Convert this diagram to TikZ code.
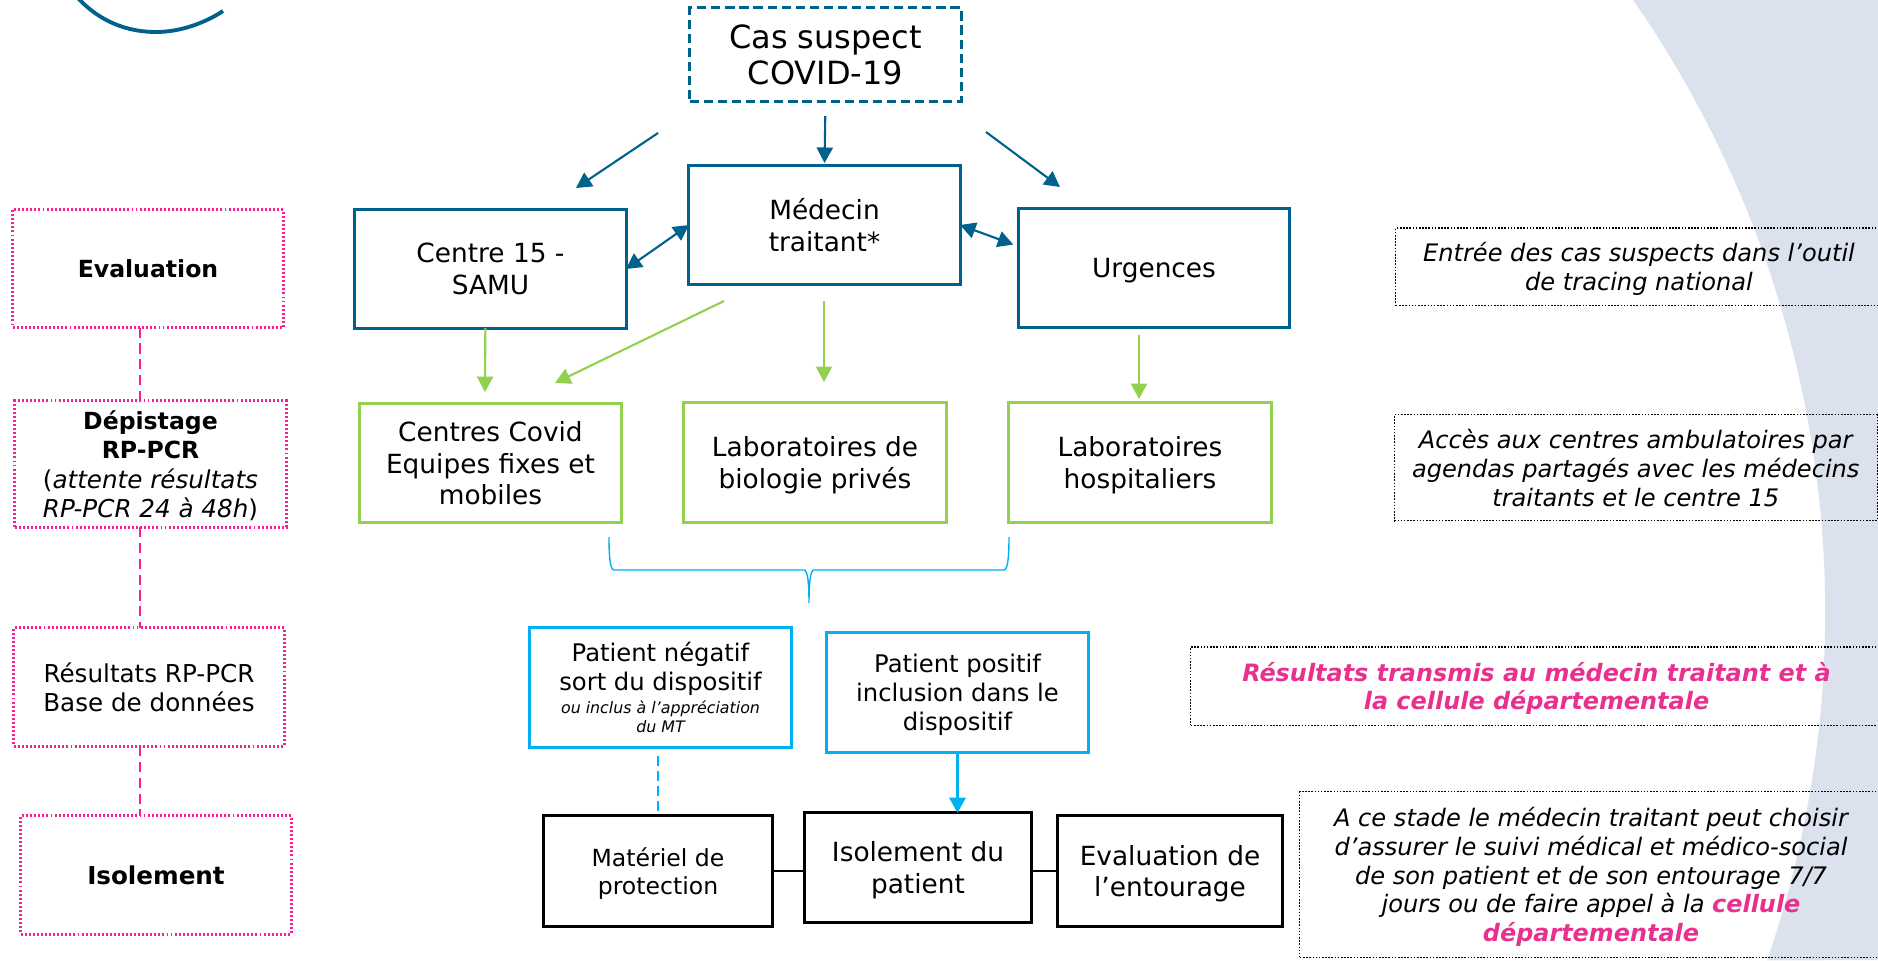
\documentclass[tikz,border=0pt]{standalone}
\usepackage{fontspec}
\setmainfont{DejaVu Sans}
\usepackage{tikz}
\usetikzlibrary{arrows.meta, positioning}
\definecolor{tealBlue}{HTML}{00618C}
\definecolor{leafGreen}{HTML}{92D050}
\definecolor{skyBlue}{HTML}{00B0F0}
\definecolor{hotPink}{HTML}{F5218F}
\definecolor{notePink}{HTML}{E8308F}
\definecolor{paleBlue}{HTML}{DCE2ED}
\tikzset{boxSize/.style 2 args={minimum width=#1cm, minimum height=#2cm}}
\tikzstyle{block} = [rectangle, align=center, inner sep=0pt, outer sep=0pt, text depth=0pt, font=\fontsize{7.5}{9}\selectfont]
\tikzstyle{tealBox} = [block, draw=tealBlue, line width=0.85pt]
\tikzstyle{greenBox} = [block, draw=leafGreen, line width=0.85pt, boxSize={2.62}{1.19}]
\tikzstyle{blueBox} = [block, draw=skyBlue, line width=0.85pt, boxSize={2.61}{1.19}, font=\fontsize{6.9}{8.2}\selectfont]
\tikzstyle{blackBox} = [block, draw=black, line width=0.85pt]
\tikzstyle{stageBox} = [block, draw=hotPink, line width=0.85pt, dash pattern=on 0.55pt off 0.6pt, boxSize={2.7}{1.18}, font=\fontsize{7}{8.2}\selectfont]
\tikzstyle{noteBox} = [block, draw=black, line width=0.3pt, dash pattern=on 0.45pt off 0.45pt, font=\fontsize{6.85}{8.2}\selectfont\itshape]
\tikzstyle{arrowTeal} = [tealBlue, line width=0.6pt, -{Triangle[length=4.4pt,width=4.6pt]}]
\tikzstyle{arrowBoth} = [tealBlue, line width=0.6pt, {Triangle[length=4.4pt,width=4.6pt]}-{Triangle[length=4.4pt,width=4.6pt]}]
\tikzstyle{arrowGreen} = [leafGreen, line width=0.6pt, -{Triangle[length=4.4pt,width=4.6pt]}]
\tikzstyle{arrowBlue} = [skyBlue, line width=0.9pt, -{Triangle[length=4.4pt,width=4.6pt]}]
\tikzstyle{stageLine} = [hotPink, line width=0.55pt, dash pattern=on 2.9pt off 1.6pt]
\newcommand{\boldLabel}{\fontsize{6.7}{8}\selectfont\bfseries}
\newcommand{\smallNote}{\fontsize{4.5}{5.4}\selectfont\itshape}
\newcommand{\pinkText}{\fontsize{6.8}{8.2}\selectfont\bfseries\color{notePink}}

\begin{document}
\begin{tikzpicture}[x=0.01cm, y=-0.01cm]
\useasboundingbox (0,0) rectangle (1878,960);
% Background and logo
\fill [paleBlue] (1633,0) arc[start angle=34.85, end angle=-18.96, radius=10.71cm] -- (1878,960) -- (1878,0) -- cycle;
\draw [tealBlue, line width=1.1pt] (78,-2) .. controls (100,22) and (128,32) .. (156,32) .. controls (180,32) and (205,23) .. (223,11);
% Define nodes
\node (casSuspect) [tealBox, boxSize={2.71}{0.93}, dash pattern=on 2.6pt off 1.4pt, font=\fontsize{9.1}{10.2}\selectfont] at (825.5,54.5) {Cas suspect\\COVID-19};
\node (medecin) [tealBox, boxSize={2.71}{1.18}] at (824.5,225) {Médecin\\traitant*};
\node (centreSamu) [tealBox, boxSize={2.71}{1.18}] at (490.5,269) {Centre 15 -\\SAMU};
\node (urgences) [tealBox, boxSize={2.70}{1.19}] at (1154,268) {Urgences};
\node (centresCovid) [greenBox] at (490.5,463) {Centres Covid\\Equipes fixes et\\mobiles};
\node (labPrives) [greenBox] at (815,462.5) {Laboratoires de\\biologie privés};
\node (labHospit) [greenBox] at (1140,462.5) {Laboratoires\\hospitaliers};
\node (patientNegatif) [blueBox] at (660.5,687.5) {Patient négatif\\sort du dispositif\\[-1.7pt]\smallNote ou inclus à l’appréciation\\[-2.8pt]\smallNote du MT};
\node (patientPositif) [blueBox] at (957.5,692.5) {Patient positif\\inclusion dans le\\dispositif};
\node (materiel) [blackBox, boxSize={2.28}{1.10}, font=\fontsize{6.7}{8}\selectfont] at (658,871) {Matériel de\\protection};
\node (isolPatient) [blackBox, boxSize={2.275}{1.09}] at (918,867.5) {Isolement du\\patient};
\node (evalEntourage) [blackBox, boxSize={2.24}{1.10}] at (1170,871) {Evaluation de\\l’entourage};
% Stages on the left
\node (evalStage) [stageBox] at (148,268.5) {\boldLabel Evaluation};
\node (depStage) [stageBox, boxSize={2.71}{1.26}, font=\fontsize{7}{8.3}\selectfont] at (150.5,464) {{\boldLabel Dépistage}\\{\boldLabel RP-PCR}\\(\textit{attente résultats}\\\textit{RP-PCR 24 à 48h})};
\node (resStage) [stageBox] at (149,687) {Résultats RP-PCR\\Base de données};
\node (isoStage) [stageBox] at (156,875) {\fontsize{7}{8}\selectfont\bfseries Isolement};
% Notes on the right
\node (noteTracing) [noteBox, boxSize={4.86}{0.775}] at (1639,266.75) {Entrée des cas suspects dans l’outil\\de tracing national};
\node (noteCentres) [noteBox, boxSize={4.825}{1.06}] at (1635.75,467.8) {Accès aux centres ambulatoires par\\agendas partagés avec les médecins\\traitants et le centre 15};
\node (noteCellule) [noteBox, boxSize={6.91}{0.78}, font=\pinkText\itshape] at (1536.5,686) {Résultats transmis au médecin traitant et à\\la cellule départementale};
\node (noteChoix) [noteBox, boxSize={5.82}{1.65}] at (1591,874.5) {A ce stade le médecin traitant peut choisir\\d’assurer le suivi médical et médico-social\\de son patient et de son entourage 7/7\\jours ou de faire appel à la {\pinkText cellule}\\{\pinkText départementale}};
% Free ends of the arrows
\coordinate (casLeft) at (658,133);
\coordinate (samuTip) at (576,188);
\coordinate (casRight) at (986,132);
\coordinate (urgencesTip) at (1060,187);
\coordinate (covidTip) at (485,392);
\coordinate (medecinFoot) at (724,301);
\coordinate (covidCorner) at (555,383);
\coordinate (medecinDown) at (824,301);
\coordinate (privesTip) at (824,382);
\coordinate (urgencesDown) at (1139,335);
\coordinate (hospitTip) at (1139,399);
\coordinate (stageAxis) at (140,0);
% Connect nodes with arrows
\draw [arrowTeal] (casLeft) -- (samuTip);
\draw [arrowTeal, shorten <=0.15cm, shorten >=0.03cm] (casSuspect.south) -- (medecin.north);
\draw [arrowTeal] (casRight) -- (urgencesTip);
\draw [arrowBoth] (centreSamu.east) -- (medecin.west);
\draw [arrowBoth, shorten >=0.06cm] (medecin.east) -- (urgences.171);
\draw [arrowGreen] (centreSamu.265) -- (covidTip);
\draw [arrowGreen] (medecinFoot) -- (covidCorner);
\draw [arrowGreen] (medecinDown) -- (privesTip);
\draw [arrowGreen] (urgencesDown) -- (hospitTip);
\draw [arrowBlue] (patientPositif.south) -- (isolPatient.north -| patientPositif.south);
\draw [skyBlue, line width=0.6pt, dash pattern=on 2.7pt off 1.6pt, shorten <=0.09cm] (patientNegatif.south -| materiel.north) -- (materiel.north);
\draw [line width=0.5pt] (materiel.east) -- (materiel.east -| isolPatient.west);
\draw [line width=0.5pt] (isolPatient.east |- evalEntourage.west) -- (evalEntourage.west);
\foreach \upper/\lower in {evalStage/depStage, depStage/resStage, resStage/isoStage}
  \draw [stageLine] (\upper.south -| stageAxis) -- (\lower.north -| stageAxis);
% Brace above the results
\draw [skyBlue, line width=0.4pt] (609,537) .. controls (609,555) and (610,570) .. (614,570) -- (804,570) .. controls (808,570) and (809,585) .. (809,603) .. controls (809,585) and (810,570) .. (814,570) -- (1004,570) .. controls (1008,570) and (1009,555) .. (1009,537);
\end{tikzpicture}
\end{document}
